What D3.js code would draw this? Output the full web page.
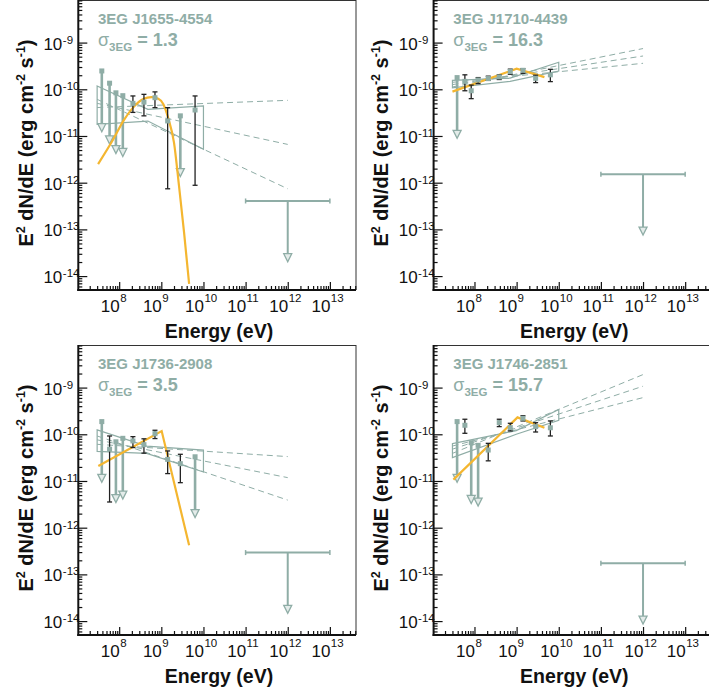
<!DOCTYPE html>
<html>
<head>
<meta charset="utf-8">
<script src="https://cdn.jsdelivr.net/npm/d3@7"></script>
<style>
  body { margin: 0; background: #fff; }
  svg { display: block; }
  text { font-family: "Liberation Sans", Arial, Helvetica, sans-serif; }
</style>
</head>
<body>
<svg id="chart" width="709" height="692"></svg>
<script>
// EGRET energy bins (geometric centres, MeV)
const binMeV = [38.7, 59.2, 83.7, 122, 212, 387, 707, 1414, 2828, 6325];

const names = ["3EG J1655-4554", "3EG J1710-4439", "3EG J1736-2908", "3EG J1746-2851"];
const sigmas = ["1.3", "16.3", "3.5", "15.7"];

// E^2 dN/dE per bin (erg cm^-2 s^-1); ul = 1 means upper limit
const flux1 = [2.47e-10, 1.35e-10, 8.4e-11, 7.3e-11, 5.0e-11, 5.3e-11, 6.6e-11, 2.1e-11, 2.7e-11, 3.6e-11];
const hi1   = [0, 0, 0, 0, 7.2e-11, 7.8e-11, 8.8e-11, 4.05e-11, 0, 7.2e-11];
const lo1   = [0, 0, 0, 0, 3.2e-11, 2.7e-11, 4.05e-11, 7.4e-13, 0, 8.8e-13];
const ul1   = [1, 1, 1, 1, 0, 0, 0, 0, 1, 0];

const flux2 = [1.78e-10, 1.48e-10, 9.3e-11, 1.58e-10, 1.70e-10, 1.84e-10, 2.4e-10, 2.55e-10, 1.72e-10, 2.04e-10];
const hi2   = [0, 2.04e-10, 1.23e-10, 1.78e-10, 1.91e-10, 2.04e-10, 2.7e-10, 2.75e-10, 2.0e-10, 2.68e-10];
const lo2   = [0, 9.3e-11, 6.3e-11, 1.32e-10, 1.55e-10, 1.62e-10, 2.1e-10, 2.2e-10, 1.39e-10, 1.46e-10];
const ul2   = [1, 0, 0, 0, 0, 0, 0, 0, 0, 0];

const flux3 = [1.87e-10, 4.8e-11, 6.9e-11, 8.2e-11, 7.2e-11, 6.0e-11, 1.03e-10, 2.9e-11, 2.35e-11, 3.3e-11];
const hi3   = [0, 9.2e-11, 0, 0, 8.9e-11, 8.0e-11, 1.22e-10, 4.4e-11, 3.73e-11, 0];
const lo3   = [0, 3.55e-12, 0, 0, 5.2e-11, 3.95e-11, 8.1e-11, 1.44e-11, 9.2e-12, 0];
const ul3   = [1, 0, 1, 1, 0, 0, 0, 0, 0, 1];

const flux4 = [1.87e-10, 1.56e-10, 6.6e-11, 5.8e-11, 4.6e-11, 1.78e-10, 1.39e-10, 2.2e-10, 1.46e-10, 1.38e-10];
const hi4   = [0, 2.1e-10, 0, 0, 6.4e-11, 2.1e-10, 1.72e-10, 2.5e-10, 1.77e-10, 1.93e-10];
const lo4   = [0, 1.05e-10, 0, 0, 2.7e-11, 1.46e-10, 1.18e-10, 1.93e-10, 1.12e-10, 9.2e-11];
const ul4   = [1, 0, 1, 1, 0, 0, 0, 0, 0, 0];

// TeV upper limits, 0.1 - 10 TeV
const tevBand = [1e11, 1e13];
const tevUL = [4.06e-13, 1.51e-12, 2.93e-13, 1.73e-13];

// 3EG butterflies: energies (eV) and upper / lower envelope
const bowE = [[3e7, 4.8e8, 1e10], [3e7, 7e8, 1e10], [3e7, 4.5e8, 1e10], [3e7, 9.8e8, 1e10]];
const bowUp = [[1.18e-10, 3.73e-11, 4.39e-11], [1.55e-10, 1.74e-10, 3.8e-10], [1.24e-10, 5.6e-11, 4.6e-11], [6.3e-11, 1.2e-10, 3.4e-10]];
const bowLo = [[1.78e-11, 2.09e-11, 5.19e-12], [1.07e-10, 1.48e-10, 2.45e-10], [4.3e-11, 3.9e-11, 1.56e-11], [3.16e-11, 1.0e-10, 2.0e-10]];

// dashed power-law extrapolations: flux at 30 MeV and at 1 TeV
const extE = [3e7, 1e12];
const ext1 = [[4.07e-11, 5.8e-11], [5.0e-11, 6.6e-12], [6.1e-11, 7.4e-13]];
const ext2 = [[1.12e-10, 7.45e-10], [1.26e-10, 5.16e-10], [1.41e-10, 3.6e-10]];
const ext3 = [[6.1e-11, 3.33e-11], [7.6e-11, 1.18e-11], [9.2e-11, 3.9e-12]];
const ext4 = [[3.9e-11, 1.9e-9], [4.8e-11, 1.07e-9], [5.6e-11, 6.1e-10]];

// model curves (orange)
const modE1 = [3.16e7, 7.24e7, 1.26e8, 2.16e8, 3.72e8, 5.89e8, 8.51e8, 1.12e9, 1.48e9, 2.0e9, 2.63e9, 3.47e9, 4.57e9];
const modF1 = [2.5e-12, 8.5e-12, 2.1e-11, 4.1e-11, 6.2e-11, 6.8e-11, 6.3e-11, 4.8e-11, 2.3e-11, 7.2e-12, 8.5e-13, 8.5e-14, 6.8e-15];
const modE2 = [3.0e7, 1.0e9, 4.57e9];
const modF2 = [8.9e-11, 2.75e-10, 1.82e-10];
const modE3 = [3.2e7, 1.02e9, 4.57e9];
const modF3 = [2.1e-11, 1.17e-10, 4.2e-13];
const modE4 = [3.16e7, 1.05e9, 4.57e9];
const modF4 = [1.07e-11, 2.3e-10, 1.38e-10];

const xTickExp = [8, 9, 10, 11, 12, 13];
const yTickExp = [-14, -13, -12, -11, -10, -9];

const panels = [
  { flux: flux1, hi: hi1, lo: lo1, ul: ul1, ext: ext1, modE: modE1, modF: modF1, smooth: true },
  { flux: flux2, hi: hi2, lo: lo2, ul: ul2, ext: ext2, modE: modE2, modF: modF2, smooth: false },
  { flux: flux3, hi: hi3, lo: lo3, ul: ul3, ext: ext3, modE: modE3, modF: modF3, smooth: false },
  { flux: flux4, hi: hi4, lo: lo4, ul: ul4, ext: ext4, modE: modE4, modF: modF4, smooth: false },
];

const svg = d3.select("#chart");
const teal = "#8fada6";
const orange = "#f4b630";
const ink = "#111";
const arrowFactor = 20;   // length of upper-limit arrows
const offsets = [[0, 0], [355.3, 0], [0, 345], [355.3, 345]];

function arrowHead(g, cx, cy) {
  g.append("path")
    .attr("d", `M${cx - 4},${cy - 8}L${cx + 4},${cy - 8}L${cx},${cy}Z`)
    .attr("fill", "#e4ecea")
    .attr("stroke", teal)
    .attr("stroke-width", 1.3);
}

panels.forEach((p, i) => {
  const g = svg.append("g").attr("transform", `translate(${offsets[i][0]},${offsets[i][1]})`);

  const x = d3.scaleLog().domain([10 ** 7.03, 10 ** 13.62]).range([78.3, 356]);
  const y = d3.scaleLog().domain([10 ** -14.298, 10 ** -8.088]).range([290, 0]);
  const [x0, x1] = x.range();
  const [y0, y1] = y.range();

  // frame
  g.append("line").attr("x1", x0).attr("x2", x1).attr("y1", y1 + 0.5).attr("y2", y1 + 0.5)
    .attr("stroke", "#333").attr("stroke-width", 1);
  g.append("line").attr("x1", x1).attr("x2", x1).attr("y1", y1).attr("y2", y0)
    .attr("stroke", "#333").attr("stroke-width", 1);

  // minor ticks
  const xMinor = [], yMinor = [];
  d3.range(7, 14).forEach(d => d3.range(2, 10).forEach(m => {
    const v = m * 10 ** d;
    if (v > x.domain()[0] && v < x.domain()[1]) xMinor.push(v);
  }));
  d3.range(-15, -8).forEach(d => d3.range(2, 10).forEach(m => {
    const v = m * 10 ** d;
    if (v > y.domain()[0] && v < y.domain()[1]) yMinor.push(v);
  }));

  const axB = g.append("g").attr("transform", `translate(0,${y0})`);
  axB.append("g").call(d3.axisBottom(x).tickValues(xMinor).tickSize(-4).tickFormat(""));
  axB.append("g").call(d3.axisBottom(x).tickValues(xTickExp.map(d => 10 ** d)).tickSize(-8).tickFormat(""));
  const axL = g.append("g").attr("transform", `translate(${x0},0)`);
  axL.append("g").call(d3.axisLeft(y).tickValues(yMinor).tickSize(-4).tickFormat(""));
  axL.append("g").call(d3.axisLeft(y).tickValues(yTickExp.map(d => 10 ** d)).tickSize(-9).tickFormat(""));
  g.selectAll(".domain").remove();
  g.selectAll(".tick line").attr("stroke", ink).attr("stroke-width", 1.2);

  g.append("line").attr("x1", x0).attr("x2", x0).attr("y1", y1).attr("y2", y0 + 1)
    .attr("stroke", ink).attr("stroke-width", 2);
  g.append("line").attr("x1", x0 - 1).attr("x2", x1).attr("y1", y0).attr("y2", y0)
    .attr("stroke", ink).attr("stroke-width", 2);

  // tick labels
  xTickExp.forEach(d => {
    const px = x(10 ** d);
    g.append("text").attr("x", px + 0.5).attr("y", y0 + 22).attr("text-anchor", "end")
      .attr("font-size", 17).attr("fill", ink).text("10");
    g.append("text").attr("x", px + 1).attr("y", y0 + 12).attr("text-anchor", "start")
      .attr("font-size", 11.5).attr("fill", ink).text(d);
  });
  yTickExp.forEach(d => {
    const py = y(10 ** d);
    g.append("text").attr("x", x0 - 16).attr("y", py + 7).attr("text-anchor", "end")
      .attr("font-size", 17).attr("fill", ink).text("10");
    g.append("text").attr("x", x0 - 15.5).attr("y", py + 1).attr("text-anchor", "start")
      .attr("font-size", 11.5).attr("fill", ink).text(d);
  });

  // axis titles
  g.append("text").attr("x", 219).attr("y", 338).attr("text-anchor", "middle")
    .attr("font-size", 19.5).attr("font-weight", "bold").attr("fill", ink).text("Energy (eV)");
  const yt = g.append("text").attr("transform", "translate(33,143) rotate(-90)")
    .attr("text-anchor", "middle").attr("font-size", 20).attr("font-weight", "bold").attr("fill", ink);
  yt.append("tspan").text("E");
  yt.append("tspan").attr("dy", -8).attr("font-size", 12.5).text("2");
  yt.append("tspan").attr("dy", 8).text(" dN/dE (erg cm");
  yt.append("tspan").attr("dy", -8).attr("font-size", 12.5).text("-2");
  yt.append("tspan").attr("dy", 8).text(" s");
  yt.append("tspan").attr("dy", -8).attr("font-size", 12.5).text("-1");
  yt.append("tspan").attr("dy", 8).text(")");

  // source labels
  g.append("text").attr("x", 98).attr("y", 24).attr("font-size", 15).attr("font-weight", "bold")
    .attr("fill", teal).text(names[i]);
  const st = g.append("text").attr("x", 98).attr("y", 46).attr("font-size", 18).attr("font-weight", "bold")
    .attr("fill", teal);
  st.append("tspan").attr("font-weight", "normal").text("σ");
  st.append("tspan").attr("dy", 5).attr("font-size", 11.5).text("3EG");
  st.append("tspan").attr("dy", -5).text(" = " + sigmas[i]);

  const plot = g.append("g");
  const line = d3.line().x(d => x(d[0])).y(d => y(d[1]));

  // butterfly
  const upper = bowE[i].map((e, k) => [e, bowUp[i][k]]);
  const lower = bowE[i].map((e, k) => [e, bowLo[i][k]]).reverse();
  plot.append("path").attr("d", line(upper.concat(lower)) + "Z")
    .attr("fill", "none").attr("stroke", teal).attr("stroke-width", 1.2);

  // dashed extrapolations
  p.ext.forEach(e => {
    plot.append("path").attr("d", line([[extE[0], e[0]], [extE[1], e[1]]]))
      .attr("fill", "none").attr("stroke", teal).attr("stroke-width", 1)
      .attr("stroke-dasharray", "6,4");
  });

  // EGRET upper limits
  binMeV.forEach((mev, k) => {
    if (!p.ul[k]) return;
    const px = x(mev * 1e6);
    const top = y(p.flux[k]);
    const tip = y(p.flux[k] / arrowFactor);
    plot.append("line").attr("x1", px).attr("x2", px).attr("y1", top).attr("y2", tip - 2)
      .attr("stroke", teal).attr("stroke-width", 2.6);
    arrowHead(plot, px, tip);
  });

  // TeV upper limit
  const ty = y(tevUL[i]);
  plot.append("line").attr("x1", x(tevBand[0])).attr("x2", x(tevBand[1])).attr("y1", ty).attr("y2", ty)
    .attr("stroke", teal).attr("stroke-width", 2);
  tevBand.forEach(e => plot.append("line").attr("x1", x(e)).attr("x2", x(e))
    .attr("y1", ty - 2.5).attr("y2", ty + 2.5).attr("stroke", teal).attr("stroke-width", 1.5));
  const tx = x(Math.sqrt(tevBand[0] * tevBand[1]));
  const ttip = y(tevUL[i] / arrowFactor);
  plot.append("line").attr("x1", tx).attr("x2", tx).attr("y1", ty).attr("y2", ttip - 2)
    .attr("stroke", teal).attr("stroke-width", 2);
  arrowHead(plot, tx, ttip);

  // model
  const modLine = d3.line().curve(p.smooth ? d3.curveMonotoneX : d3.curveLinear)
    .x(d => x(d[0])).y(d => y(d[1]));
  plot.append("path")
    .attr("d", modLine(p.modE.map((e, k) => [e, p.modF[k]])))
    .attr("fill", "none").attr("stroke", orange).attr("stroke-width", 2.2);

  // measured points
  binMeV.forEach((mev, k) => {
    const px = x(mev * 1e6);
    if (!p.ul[k]) {
      const a = y(p.hi[k]), b = y(p.lo[k]);
      plot.append("line").attr("x1", px).attr("x2", px).attr("y1", a).attr("y2", b)
        .attr("stroke", "#222").attr("stroke-width", 1.3);
      [a, b].forEach(v => plot.append("line").attr("x1", px - 2.5).attr("x2", px + 2.5)
        .attr("y1", v).attr("y2", v).attr("stroke", "#222").attr("stroke-width", 1.3));
    }
    plot.append("rect").attr("x", px - 2.5).attr("y", y(p.flux[k]) - 2.5)
      .attr("width", 5).attr("height", 5).attr("fill", teal);
  });
});
</script>
</body>
</html>
